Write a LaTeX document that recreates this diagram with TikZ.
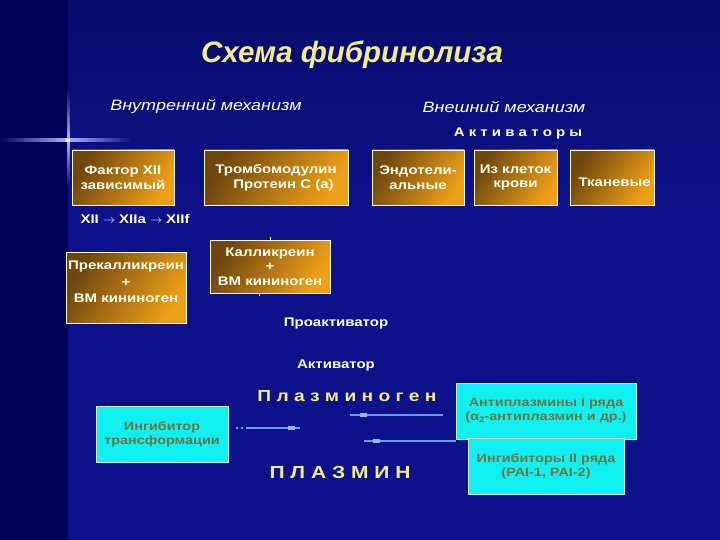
\documentclass[tikz,border=0pt]{standalone}
\usepackage{fontspec}
\setmainfont[FakeStretch=1.2]{Liberation Sans}
\newfontfamily\ttlfont{Liberation Sans}
\usetikzlibrary{positioning}
\definecolor{bgmain}{HTML}{0D128A}
\definecolor{bgtop}{HTML}{080B6A}
\definecolor{bgleft}{HTML}{02045C}
\definecolor{goldD}{HTML}{6E4610}
\definecolor{goldL}{HTML}{EEA018}
\definecolor{ttl}{HTML}{F2EC8C}
\definecolor{cyanbox}{HTML}{10F0F0}
\definecolor{olivetxt}{HTML}{6E7440}
\definecolor{linecol}{HTML}{6A9CF0}
\tikzset{
  goldtxt/.style={text=white!92!yellow, font=\bfseries\fontsize{12.5}{14.5}\selectfont, align=center, inner sep=0pt},
  goldbox/.style={goldtxt, draw=white!85!yellow, line width=0.8pt, top color=goldD, bottom color=goldL, shading angle=60},
  cybox/.style={draw=white!80!cyan, line width=0.8pt, fill=cyanbox, text=olivetxt, font=\bfseries\fontsize{12}{14}\selectfont, align=center, inner sep=0pt},
  wtxt/.style={text=white, font=\bfseries\fontsize{12.5}{14}\selectfont},
  ytxt/.style={text=ttl, font=\bfseries\fontsize{16}{18}\selectfont},
  itxt/.style={text=white, font=\itshape\fontsize{15}{17}\selectfont},
  bl/.style={draw=linecol, line width=1.6pt},
  blip/.style={fill=linecol!70!white, minimum width=7pt, minimum height=4pt, inner sep=0pt}
}
\begin{document}
\begin{tikzpicture}[x=1pt,y=-1pt]
\useasboundingbox (0,0) rectangle (720,540);
% background
\fill[bgmain] (0,0) rectangle (720,540);
\shade[top color=bgtop, bottom color=bgmain] (0,0) rectangle (720,200);
\fill[bgleft] (0,0) rectangle (68,540);
% flare
\shade[left color=bgleft, right color=white!70!blue] (0,139) rectangle (68,141.5);
\shade[left color=white!70!blue, right color=bgmain] (68,139) rectangle (130,141.5);
\shade[top color=bgtop, bottom color=white!70!blue] (67,90) rectangle (69.5,140);
\shade[top color=white!70!blue, bottom color=bgmain] (67,140) rectangle (69.5,185);
\fill[white] (68,140.2) circle (2pt);
% title
\node[text=ttl, font=\ttlfont\bfseries\itshape\fontsize{29.5}{32}\selectfont] (title) at (352,55) {Схема фибринолиза};
\node[itxt] (inner) at (206,107) {Внутренний механизм};
\node[itxt] (outer) at (504,107) {Внешний механизм};
\node[wtxt] (act) at (518,133) {А к т и в а т о р ы};
% gold boxes
\node[goldbox, minimum width=102pt, minimum height=55pt] (f12) at (123,177.5) {Фактор XII\\зависимый};
\node[goldbox, minimum width=144pt, minimum height=55pt] (thr) at (276,177.5) {Тромбомодулин\\\hspace*{1.2em}Протеин С (а)};
\node[goldbox, minimum width=92pt, minimum height=55pt] (endo) at (418,177.5) {Эндотели-\\альные};
\node[goldbox, minimum width=83pt, minimum height=55pt] (blood) at (515.5,177.5) {Из клеток\\крови};
\node[goldbox, minimum width=84pt, minimum height=55pt] (tiss) at (612,177.5) {};
\node[goldtxt, anchor=east] (tisst) at (651,182) {Тканевые};
\node[wtxt, anchor=west] (xii) at (77,219) {XII $\rightarrow$ XIIa $\rightarrow$ XIIf};
\node[goldbox, minimum width=120pt, minimum height=71pt] (prek) at (126,287.5) {};
\node[goldtxt, font=\bfseries\fontsize{12.5}{16.5}\selectfont] (prekt) at (126,282) {Прекалликреин\\+\\ВМ кининоген};
\node[goldbox, minimum width=120pt, minimum height=53pt] (kal) at (270,266.5) {Калликреин\\+\\ВМ кининоген};
\draw[white, line width=0.6pt] (kal.north) -- ++(0,-3);
\draw[white, line width=0.6pt] (kal.south) ++(-11,0) -- ++(0,3);
\node[wtxt] (proact) at (336,323) {Проактиватор};
\node[wtxt] (activ) at (336,365) {Активатор};
\node[ytxt] (plg) at (347,396) {П л а з м и н о г е н};
\node[ytxt, font=\bfseries\fontsize{17.5}{20}\selectfont] (plm) at (340,472) {П Л А З М И Н};
% cyan boxes
\node[cybox, minimum width=132pt, minimum height=56pt] (inh) at (162,434) {Ингибитор\\трансформации};
\node[cybox, minimum width=180pt, minimum height=56pt] (anti) at (546,411) {Антиплазмины I ряда\\(α\raisebox{-2pt}{\fontsize{8}{8}\selectfont 2}-антиплазмин и др.)};
\node[cybox, minimum width=156pt, minimum height=56pt] (pai) at (546,466) {Ингибиторы II ряда\\(PAI-1, PAI-2)};
% connector lines
\coordinate (a1) at (350,415);
\coordinate (a2) at (443,415);
\draw[bl] (a1) -- (a2);
\node[blip] at (363,415) {};
\coordinate (b1) at (364,441);
\coordinate (b2) at (456,441);
\draw[bl] (b1) -- (b2);
\node[blip] at (376,441) {};
\coordinate (c1) at (236,428);
\coordinate (c2) at (300,428);
\draw[bl, line width=1.2pt] (236,428) -- (238,428) (241,428) -- (243,428);
\draw[bl] (246,428) -- (c2);
\node[blip] at (291,428) {};
\end{tikzpicture}
\end{document}
